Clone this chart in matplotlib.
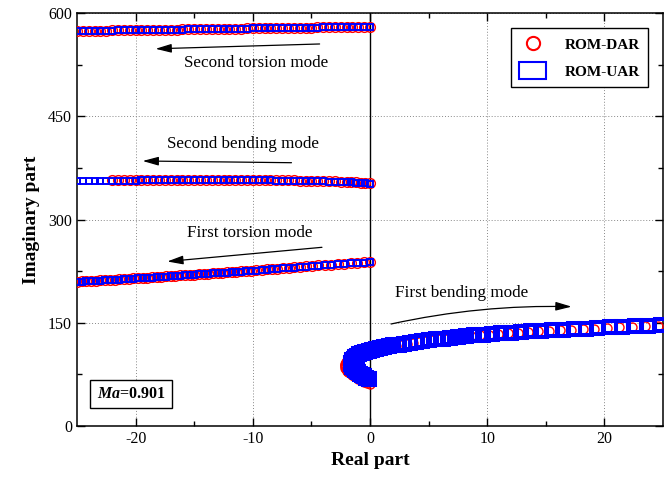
import matplotlib
matplotlib.use("Agg")
import matplotlib.pyplot as plt
from matplotlib.lines import Line2D
from matplotlib.patches import Patch

plt.rcParams["font.family"] = "Liberation Serif"
plt.rcParams["mathtext.fontset"] = "custom"
plt.rcParams["mathtext.it"] = "Liberation Serif:italic:bold"
plt.rcParams["axes.unicode_minus"] = False

# second torsion mode
x_t2 = [0.0, -0.5, -1.0, -1.5, -2.0, -2.5, -3.0, -3.5, -4.0, -4.5, -5.0, -5.5, -6.0,
        -6.5, -7.0, -7.5, -8.0, -8.5, -9.0, -9.5, -10.0, -10.5, -11.0, -11.5, -12.0,
        -12.5, -13.0, -13.5, -14.0, -14.5, -15.0, -15.5, -16.0, -16.5, -17.0, -17.5,
        -18.0, -18.5, -19.0, -19.5, -20.0, -20.5, -21.0, -21.5, -22.0, -22.5, -23.0,
        -23.5, -24.0, -24.5, -25.0]
dar_t2 = [580.2, 580.1, 579.9, 579.8, 579.7, 579.6, 579.4, 579.3, 579.2, 579.1, 578.9,
          578.8, 578.7, 578.6, 578.4, 578.3, 578.2, 578.1, 577.9, 577.8, 577.7, 577.6,
          577.4, 577.3, 577.2, 577.1, 576.9, 576.8, 576.7, 576.5, 576.4, 576.3, 576.2,
          576.0, 575.9, 575.8, 575.7, 575.5, 575.4, 575.3, 575.2, 575.0, 574.9, 574.8,
          574.7, 574.5, 574.4, 574.3, 574.2, 574.0, 573.9]
uar_t2 = [580.0, 579.9, 579.8, 579.7, 579.5, 579.4, 579.3, 579.2, 579.0, 578.9, 578.8,
          578.7, 578.5, 578.4, 578.3, 578.2, 578.0, 577.9, 577.8, 577.7, 577.5, 577.4,
          577.3, 577.2, 577.0, 576.9, 576.8, 576.7, 576.5, 576.4, 576.3, 576.2, 576.0,
          575.9, 575.8, 575.7, 575.5, 575.4, 575.3, 575.2, 575.0, 574.9, 574.8, 574.7,
          574.5, 574.4, 574.3, 574.2, 574.0, 573.9, 573.8]

# second bending mode
x_b2 = [0.0, -0.4, -0.8, -1.2, -1.6, -2.0, -2.5, -3.0, -3.5, -4.0, -4.5, -5.0, -5.5,
        -6.0, -6.5, -7.0, -7.5, -8.0, -8.5, -9.0, -9.5, -10.0, -10.5, -11.0, -11.5,
        -12.0, -12.5, -13.0, -13.5, -14.0, -14.5, -15.0, -15.5, -16.0, -16.5, -17.0,
        -17.5, -18.0, -18.5, -19.0, -19.5, -20.0, -20.5, -21.0, -21.5, -22.0, -22.5,
        -23.0, -23.5, -24.0, -24.5, -25.0]
dar_b2 = [352.6, 353.1, 353.6, 354.0, 354.4, 354.7, 355.0, 355.3, 355.6, 355.8, 356.0,
          356.2, 356.4, 356.5, 356.7, 356.8, 356.9, 357.0, 357.1, 357.2, 357.3, 357.3,
          357.4, 357.4, 357.5, 357.5, 357.5, 357.5, 357.5, 357.5, 357.5, 357.4, 357.4,
          357.4, 357.3, 357.3, 357.3, 357.2, 357.2, 357.1, 357.1, 357.0, 357.0, 356.9,
          356.9, 356.8]
uar_b2 = [352.3, 352.8, 353.2, 353.6, 354.0, 354.3, 354.6, 354.9, 355.2, 355.4, 355.6,
          355.8, 356.0, 356.1, 356.3, 356.4, 356.5, 356.6, 356.7, 356.8, 356.9, 356.9,
          357.0, 357.0, 357.1, 357.1, 357.1, 357.1, 357.1, 357.1, 357.1, 357.0, 357.0,
          357.0, 356.9, 356.9, 356.9, 356.8, 356.8, 356.7, 356.7, 356.6, 356.6, 356.5,
          356.5, 356.4, 356.4, 356.4, 356.3, 356.3, 356.3, 356.2]

# first torsion mode
x_t1 = [0.0, -0.55, -1.1, -1.65, -2.2, -2.75, -3.3, -3.85, -4.4, -4.95, -5.45, -5.95,
        -6.45, -6.95, -7.45, -7.9, -8.35, -8.8, -9.25, -9.7, -10.15, -10.6, -11.0,
        -11.4, -11.8, -12.2, -12.6, -13.0, -13.4, -13.8, -14.2, -14.6, -15.0, -15.4,
        -15.8, -16.2, -16.6, -17.0, -17.4, -17.8, -18.2, -18.6, -19.0, -19.4, -19.8,
        -20.2, -20.6, -21.0, -21.4, -21.8, -22.2, -22.6, -23.0, -23.4, -23.8, -24.2,
        -24.6, -25.0]
dar_t1 = [238.2, 237.6, 237.0, 236.4, 235.8, 235.2, 234.5, 233.8, 233.2, 232.6, 231.9,
          231.2, 230.5, 229.9, 229.1, 228.5, 228.0, 227.4, 226.8, 226.2, 225.6, 225.1,
          224.7, 224.2, 223.8, 223.3, 222.9, 222.4, 222.0, 221.5, 221.0, 220.5, 220.0,
          219.6, 219.1, 218.7, 218.2, 217.8, 217.3, 216.9, 216.4, 216.0, 215.6, 215.2,
          214.7, 214.3, 213.9, 213.5, 213.0, 212.6, 212.3, 211.9, 211.5, 211.2, 210.8,
          210.4, 210.1, 209.7]
uar_t1 = [237.9, 237.3, 236.7, 236.1, 235.5, 234.9, 234.2, 233.5, 232.9, 232.3, 231.6,
          230.9, 230.2, 229.6, 228.9, 228.3, 227.7, 227.1, 226.5, 225.9, 225.3, 224.8,
          224.4, 223.9, 223.5, 223.0, 222.6, 222.1, 221.7, 221.2, 220.7, 220.2, 219.7,
          219.3, 218.8, 218.4, 217.9, 217.5, 217.0, 216.6, 216.1, 215.7, 215.3, 214.9,
          214.4, 214.0, 213.6, 213.2, 212.7, 212.3, 212.0, 211.6, 211.2, 210.9, 210.5,
          210.1, 209.8, 209.4]

# first bending mode
x_dar_b1 = [0.0, -0.25, -0.5, -0.75, -1.0, -1.2, -1.4, -1.55, -1.7, -1.85, -1.95, -2.05,
            -2.1, -2.15, -2.15, -2.1, -2.05, -1.95, -1.8, -1.6, -1.4, -1.15, -0.9, -0.6,
            -0.3, 0.0, 0.3, 0.6, 0.95, 1.35, 1.75, 2.2, 2.65, 3.15, 3.65, 4.2, 4.75,
            5.35, 5.95, 6.6, 7.25, 7.95, 8.65, 9.4, 10.15, 10.95, 11.75, 12.6, 13.45,
            14.35, 15.25, 16.2, 17.15, 18.15, 19.15, 20.2, 21.25, 22.35, 23.45, 24.6,
            25.75]
y_dar_b1 = [60.5, 62.5, 64.5, 66.5, 68.5, 70.5, 72.5, 74.5, 76.5, 78.5, 80.5, 82.5, 84.5,
            86.5, 88.5, 90.5, 92.5, 94.5, 96.5, 98.5, 100.5, 102.5, 104.3, 106.0, 107.6,
            109.1, 110.5, 111.8, 113.1, 114.4, 115.6, 116.9, 118.2, 119.5, 120.8, 122.1,
            123.4, 124.7, 125.9, 127.1, 128.3, 129.5, 130.6, 131.7, 132.7, 133.7, 134.7,
            135.6, 136.5, 137.4, 138.3, 139.1, 139.9, 140.8, 141.6, 142.4, 143.3, 144.1,
            145.0, 145.8, 146.7]
x_uar_b1 = [-0.1, -0.3, -0.5, -0.7, -0.85, -1.0, -1.15, -1.3, -1.4, -1.5, -1.55, -1.6,
            -1.6, -1.55, -1.5, -1.4, -1.25, -1.1, -0.9, -0.65, -0.4, -0.1, 0.2, 0.5,
            0.85, 1.2, 1.6, 2.0, 2.45, 2.9, 3.4, 3.9, 4.45, 5.0, 5.6, 6.2, 6.85, 7.5,
            8.2, 8.9, 9.65, 10.4, 11.2, 12.0, 12.85, 13.7, 14.6, 15.5, 16.45, 17.4,
            18.4, 19.4, 20.45, 21.5, 22.6, 23.7, 24.85, 26.0]
y_uar_b1 = [68.0, 70.0, 72.0, 74.0, 76.0, 78.0, 80.0, 82.0, 84.0, 86.0, 88.0, 90.0, 92.0,
            94.0, 96.0, 98.0, 100.0, 102.0, 104.0, 105.8, 107.5, 109.2, 110.7, 112.0,
            113.3, 114.5, 115.8, 117.0, 118.3, 119.5, 120.8, 122.0, 123.3, 124.6, 125.8,
            127.0, 128.2, 129.4, 130.6, 131.7, 132.8, 133.8, 134.8, 135.7, 136.6, 137.5,
            138.4, 139.2, 140.0, 140.8, 141.6, 142.4, 143.3, 144.1, 144.9, 145.8, 146.6,
            147.5]

fig = plt.figure(figsize=(6.64, 4.83), dpi=100)
ax = fig.add_axes([77 / 664, 57 / 483, 586 / 664, 413 / 483])

red = dict(ls="none", marker="o", mec="red", mfc="none", ms=7, mew=1.0, zorder=3)
blue = dict(ls="none", marker="s", mec="blue", mfc="none", ms=4.5, mew=1.4, zorder=4)

ax.plot(x_t2, dar_t2, **red)
ax.plot(x_t2, uar_t2, **blue)
ax.plot(x_b2[:len(dar_b2)], dar_b2, **red)
ax.plot(x_b2, uar_b2, **blue)
ax.plot(x_t1, dar_t1, **red)
ax.plot(x_t1, uar_t1, **blue)
ax.plot(x_dar_b1, y_dar_b1, ls="none", marker="o", mec="red", mfc="none", ms=6.5,
        mew=1.0, zorder=3)
ax.plot(x_uar_b1, y_uar_b1, ls="none", marker="s", mec="blue", mfc="none",
        ms=8.2, mew=2.9, zorder=4)

ax.axvline(0, color="black", lw=1.0, zorder=2)

ax.set_xlim(-25, 25)
ax.set_ylim(0, 600)
ax.set_xticks([-20, -10, 0, 10, 20])
ax.set_xticks([-15, -5, 5, 15], minor=True)
ax.set_yticks([0, 150, 300, 450, 600])
ax.set_yticks([75, 225, 375, 525], minor=True)
ax.grid(True, which="major", ls=(0, (1, 2)), color="#888888", lw=0.7)
ax.tick_params(which="both", direction="in", top=True, right=True, width=1.0,
               labelsize=11.5)
ax.tick_params(which="major", length=6)
ax.tick_params(which="minor", length=3.8)
for s in ax.spines.values():
    s.set_linewidth(1.1)

ax.set_xlabel("Real part", fontsize=14, fontweight="bold", labelpad=4)
ax.set_ylabel("Imaginary part", fontsize=14, fontweight="bold", labelpad=6)

# mode labels and direction arrows
ax.text(-9.7, 527, "Second torsion mode", fontsize=12.3, ha="center", va="center")
ax.text(-10.8, 410, "Second bending mode", fontsize=12.3, ha="center", va="center")
ax.text(-10.3, 280, "First torsion mode", fontsize=12.3, ha="center", va="center")
ax.text(7.8, 193, "First bending mode", fontsize=12.3, ha="center", va="center")

arrow = dict(arrowstyle="-|>,head_length=0.8,head_width=0.22", color="black", lw=0.9,
             mutation_scale=12, shrinkA=0, shrinkB=0)
ax.annotate("", xy=(-18.3, 548), xytext=(-4.3, 555), arrowprops=arrow)
ax.annotate("", xy=(-19.4, 385), xytext=(-6.7, 382.5), arrowprops=arrow)
ax.annotate("", xy=(-17.3, 239), xytext=(-4.1, 259.6), arrowprops=arrow)
ax.annotate("", xy=(17.2, 173.4), xytext=(1.8, 148.2),
            arrowprops=dict(arrow, connectionstyle="arc3,rad=-0.06"))

ax.text(-20.4, 46.5, "$Ma$=0.901", fontsize=11.5, fontweight="bold", ha="center",
        va="center", bbox=dict(boxstyle="square,pad=0.4", fc="white", ec="black", lw=1))

handles = [Line2D([], [], ls="none", marker="o", mec="red", mfc="none", ms=9.5, mew=1.5),
           Patch(facecolor="none", edgecolor="blue", lw=1.5)]
leg = ax.legend(handles, ["ROM-DAR", "ROM-UAR"], loc="upper right",
                prop={"weight": "bold", "size": 11}, handlelength=1.8, handleheight=1.3,
                labelspacing=0.65, handletextpad=1.2, borderpad=0.5, borderaxespad=1.0,
                fancybox=False, framealpha=1, edgecolor="black")
leg.get_frame().set_linewidth(1.0)

fig.savefig("out.png", dpi=100)
